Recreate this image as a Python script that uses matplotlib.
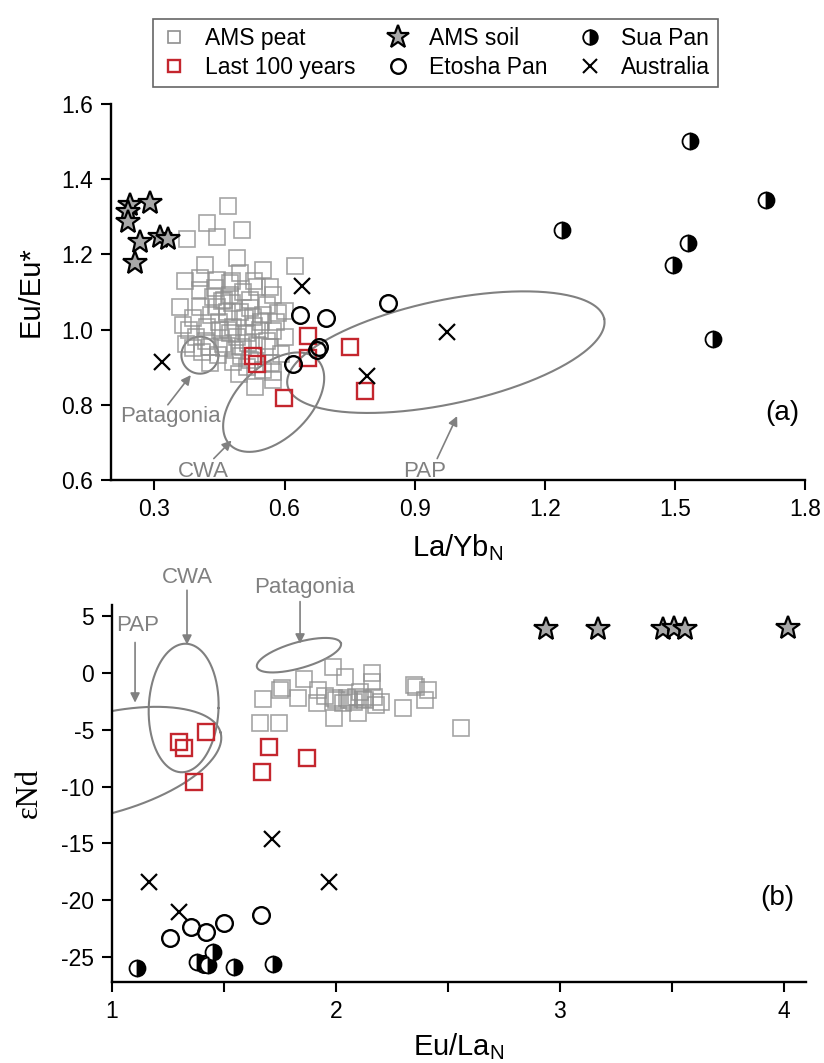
import numpy as np
import matplotlib
matplotlib.use("Agg")
import matplotlib.pyplot as plt
from matplotlib.lines import Line2D
from matplotlib.ticker import MultipleLocator, FuncFormatter

plt.rcParams['font.family'] = ['Liberation Sans', 'DejaVu Sans']
plt.rcParams['mathtext.fontset'] = 'custom'
plt.rcParams['mathtext.rm'] = 'Liberation Sans'
plt.rcParams['axes.unicode_minus'] = False

# ---------------- Panel (a): Eu/Eu* vs La/Yb_N ----------------
peat_a_x = [0.470, 0.422, 0.444, 0.501, 0.376, 0.490, 0.624, 0.417, 0.551, 0.371,
            0.405, 0.497, 0.444, 0.474, 0.405, 0.436, 0.474, 0.505, 0.536, 0.566,
            0.574, 0.405, 0.444, 0.467, 0.497, 0.520, 0.559, 0.586, 0.528, 0.367,
            0.421, 0.451, 0.482, 0.513, 0.543, 0.574, 0.601, 0.397, 0.374, 0.428,
            0.459, 0.486, 0.505, 0.536, 0.566, 0.593, 0.447, 0.428, 0.482, 0.513,
            0.551, 0.574, 0.494, 0.532, 0.574, 0.460, 0.480, 0.430, 0.450, 0.470,
            0.490, 0.510, 0.530, 0.550, 0.560, 0.420, 0.390, 0.410, 0.500, 0.520,
            0.460, 0.440, 0.520, 0.580, 0.600, 0.380, 0.480, 0.530, 0.570, 0.390,
            0.360, 0.455, 0.515, 0.545, 0.475]
peat_a_y = [1.329, 1.283, 1.247, 1.266, 1.241, 1.190, 1.169, 1.173, 1.159, 1.128,
            1.137, 1.150, 1.132, 1.123, 1.105, 1.088, 1.092, 1.101, 1.114, 1.114,
            1.092, 1.061, 1.061, 1.048, 1.048, 1.057, 1.066, 1.043, 1.034, 1.012,
            1.008, 0.999, 1.008, 0.990, 0.999, 0.995, 0.981, 0.981, 0.963, 0.954,
            0.963, 0.945, 0.954, 0.959, 0.954, 0.936, 0.932, 0.910, 0.914, 0.901,
            0.892, 0.888, 0.883, 0.848, 0.866, 1.080, 1.070, 1.040, 1.020, 1.000,
            0.980, 1.030, 1.010, 1.040, 0.970, 0.970, 1.030, 0.940, 0.930, 0.920,
            0.950, 1.110, 1.080, 1.020, 1.050, 1.000, 1.130, 1.130, 0.910, 0.950,
            1.060, 1.075, 0.965, 1.020, 0.990]

recent_a_x = [0.654, 0.751, 0.654, 0.527, 0.537, 0.599, 0.786]
recent_a_y = [0.982, 0.955, 0.924, 0.929, 0.908, 0.817, 0.836]

soil_a_x = [0.244, 0.290, 0.239, 0.239, 0.267, 0.313, 0.331, 0.255]
soil_a_y = [1.332, 1.337, 1.313, 1.287, 1.234, 1.245, 1.242, 1.178]

etosha_a_x = [0.636, 0.696, 0.839, 0.680, 0.675, 0.620]
etosha_a_y = [1.038, 1.030, 1.072, 0.953, 0.945, 0.908]

sua_a_x = [1.535, 1.710, 1.240, 1.530, 1.496, 1.588]
sua_a_y = [1.502, 1.345, 1.266, 1.229, 1.173, 0.974]

aus_a_x = [0.640, 0.975, 0.790, 0.317]
aus_a_y = [1.115, 0.993, 0.876, 0.913]

# ---------------- Panel (b): eNd vs Eu/La_N ----------------
peat_b_x = [1.674, 1.750, 1.760, 1.857, 1.830, 1.987, 2.040, 1.920, 1.915, 1.990,
            2.000, 2.060, 2.080, 2.110, 2.160, 2.160, 2.130, 2.180, 1.990, 2.100,
            1.660, 1.745, 2.300, 2.350, 2.360, 2.410, 2.400, 2.560, 2.090, 2.170,
            1.950, 2.030, 2.050, 2.120, 2.200]
peat_b_y = [-2.28, -1.49, -1.30, -0.53, -2.20, 0.53, -0.35, -1.50, -2.65, -2.20,
            -2.40, -2.40, -2.50, -1.64, 0.00, -0.80, -2.40, -2.80, -3.95, -3.50,
            -4.40, -4.40, -3.10, -1.05, -1.20, -1.50, -2.37, -4.80, -2.10, -2.10,
            -2.00, -2.60, -2.20, -2.30, -2.50]

recent_b_x = [1.300, 1.320, 1.420, 1.366, 1.700, 1.670, 1.870]
recent_b_y = [-6.1, -6.6, -5.2, -9.6, -6.5, -8.7, -7.5]

soil_b_x = [2.94, 3.17, 3.46, 3.51, 3.56, 4.02]
soil_b_y = [3.9, 3.9, 3.85, 4.0, 3.9, 4.0]

etosha_b_x = [1.26, 1.355, 1.42, 1.50, 1.665, 1.41]
etosha_b_y = [-23.3, -22.4, -22.8, -22.0, -21.3, -25.6]

sua_b_x = [1.11, 1.38, 1.45, 1.43, 1.545, 1.72]
sua_b_y = [-26.0, -25.4, -24.6, -25.7, -25.9, -25.6]

aus_b_x = [1.165, 1.30, 1.714, 1.97]
aus_b_y = [-18.4, -21.0, -14.6, -18.4]

# Source-area fields: centre and two principal semi-axis vectors (data units)
regions_a = {
    'Patagonia': dict(c=(0.405, 0.932), u=(0.0427, 0.0), v=(0.0, 0.0492)),
    'CWA': dict(c=(0.575, 0.807), u=(0.1012, 0.1128), v=(-0.0577, 0.0689)),
    'PAP': dict(c=(0.972, 0.940), u=(0.365, 0.089), v=(0.025, -0.135)),
}
regions_b = {
    'PAP': dict(c=(0.946, -8.07), u=(0.539, 2.84), v=(-0.058, 4.24)),
    'CWA': dict(c=(1.320, -3.07), u=(0.156, 0.0), v=(0.008, 5.66)),
    'Patagonia': dict(c=(1.835, 1.58), u=(0.1875, 1.053), v=(-0.016, 1.096)),
}

GREY = '#808080'
RED = '#c4262e'
PEAT = '#8f8f8f'
STAR = '#a8a8a8'

W, H = 824, 1063
fig = plt.figure(figsize=(W / 100, H / 100), dpi=100)
ax1 = fig.add_axes([111 / W, 1 - 480 / H, 694 / W, 376 / H])
ax2 = fig.add_axes([112 / W, 1 - 982 / H, 694 / W, 377 / H])


def draw_region(ax, r):
    t = np.linspace(0, 2 * np.pi, 300)
    cx, cy = r['c']
    ux, uy = r['u']
    vx, vy = r['v']
    ax.plot(cx + ux * np.cos(t) + vx * np.sin(t),
            cy + uy * np.cos(t) + vy * np.sin(t),
            color=GREY, lw=1.5, zorder=1)


def scatter_sets(ax, peat, recent, soil, etosha, sua, aus):
    ax.plot(*peat, ls='none', marker='s', ms=11, mfc='none', mec=PEAT,
            mew=1.2, alpha=0.8, zorder=2)
    ax.plot(*recent, ls='none', marker='s', ms=11, mfc='none', mec=RED,
            mew=1.7, zorder=4)
    ax.plot(*soil, ls='none', marker='*', ms=18, mfc=STAR, mec='black',
            mew=1.6, zorder=5)
    ax.plot(*etosha, ls='none', marker='o', ms=12, mfc='none', mec='black',
            mew=1.7, zorder=4)
    ax.plot(*sua, ls='none', marker='o', ms=11.5, fillstyle='right',
            markerfacecolor='black', markerfacecoloralt='white',
            mec='black', mew=1.3, zorder=4)
    ax.plot(*aus, ls='none', marker='x', ms=11.5, mec='black', mew=1.6,
            zorder=4)


def style_axes(ax):
    for s in ('top', 'right'):
        ax.spines[s].set_visible(False)
    for s in ('left', 'bottom'):
        ax.spines[s].set_linewidth(1.7)
    ax.tick_params(direction='out', length=7, width=1.5, labelsize=16.5,
                   pad=6)


arrow_kw = dict(arrowstyle='-|>', color=GREY, lw=1.2, mutation_scale=14,
                shrinkA=0, shrinkB=0)

# ---- panel (a)
for r in regions_a.values():
    draw_region(ax1, r)
scatter_sets(ax1, (peat_a_x, peat_a_y), (recent_a_x, recent_a_y),
             (soil_a_x, soil_a_y), (etosha_a_x, etosha_a_y),
             (sua_a_x, sua_a_y), (aus_a_x, aus_a_y))
ax1.set_xlim(0.2, 1.8)
ax1.set_ylim(0.6, 1.6)
ax1.set_xticks([0.3, 0.6, 0.9, 1.2, 1.5, 1.8])
ax1.set_yticks([0.6, 0.8, 1.0, 1.2, 1.4, 1.6])
ax1.yaxis.set_major_formatter(FuncFormatter(lambda v, p: f'{v:.1f}'))
ax1.xaxis.set_major_formatter(FuncFormatter(lambda v, p: f'{v:.1f}'))
style_axes(ax1)
ax1.set_xlabel(r'La/Yb$_\mathregular{N}$', fontsize=21, labelpad=8)
ax1.set_ylabel('Eu/Eu*', fontsize=21, labelpad=12)

ax1.text(0.336, 0.768, 'Patagonia', color=GREY, fontsize=16,
         ha='center', va='center')
ax1.annotate('', xy=(0.384, 0.879), xytext=(0.331, 0.800),
             arrowprops=arrow_kw)
ax1.text(0.414, 0.607, 'CWA', color=GREY, fontsize=16, ha='center',
         va='baseline')
ax1.annotate('', xy=(0.478, 0.705), xytext=(0.437, 0.657),
             arrowprops=arrow_kw)
ax1.text(0.924, 0.607, 'PAP', color=GREY, fontsize=16, ha='center',
         va='baseline')
ax1.annotate('', xy=(0.998, 0.770), xytext=(0.952, 0.657),
             arrowprops=arrow_kw)
ax1.text(1.747, 0.778, '(a)', fontsize=20, ha='center', va='center')

# ---- panel (b)
for r in regions_b.values():
    draw_region(ax2, r)
scatter_sets(ax2, (peat_b_x, peat_b_y), (recent_b_x, recent_b_y),
             (soil_b_x, soil_b_y), (etosha_b_x, etosha_b_y),
             (sua_b_x, sua_b_y), (aus_b_x, aus_b_y))
ax2.set_xlim(1, 4.1)
ax2.set_ylim(-27.2, 6.0)
ax2.xaxis.set_major_locator(MultipleLocator(0.5))
ax2.xaxis.set_major_formatter(
    FuncFormatter(lambda v, p: f'{v:.0f}' if abs(v - round(v)) < 1e-6 else ''))
ax2.set_yticks([5, 0, -5, -10, -15, -20, -25])
style_axes(ax2)
ax2.set_xlabel(r'Eu/La$_\mathregular{N}$', fontsize=21, labelpad=6)
ax2.set_ylabel('\u03b5Nd', fontsize=22, labelpad=12,
               family=['Liberation Serif', 'DejaVu Serif'])

ax2.text(1.02, 4.2, 'PAP', color=GREY, fontsize=16, ha='left', va='center',
         clip_on=False)
ax2.annotate('', xy=(1.103, -2.6), xytext=(1.103, 2.7), arrowprops=arrow_kw)
ax2.text(1.335, 8.4, 'CWA', color=GREY, fontsize=16, ha='center',
         va='center', clip_on=False)
ax2.annotate('', xy=(1.335, 2.5), xytext=(1.335, 7.3), arrowprops=arrow_kw,
             annotation_clip=False)
ax2.text(1.86, 7.5, 'Patagonia', color=GREY, fontsize=16, ha='center',
         va='center', clip_on=False)
ax2.annotate('', xy=(1.84, 2.6), xytext=(1.84, 6.3), arrowprops=arrow_kw,
             annotation_clip=False)
ax2.text(3.97, -19.8, '(b)', fontsize=20, ha='center', va='center')

# ---- legend
handles = [
    Line2D([], [], ls='none', marker='s', ms=9, mfc='none', mec=PEAT,
           mew=1.2),
    Line2D([], [], ls='none', marker='s', ms=9, mfc='none', mec=RED,
           mew=1.7),
    Line2D([], [], ls='none', marker='*', ms=17, mfc=STAR, mec='black',
           mew=1.6),
    Line2D([], [], ls='none', marker='o', ms=10.5, mfc='none', mec='black',
           mew=1.7),
    Line2D([], [], ls='none', marker='o', ms=10.5, fillstyle='right',
           markerfacecolor='black', markerfacecoloralt='white',
           mec='black', mew=1.3),
    Line2D([], [], ls='none', marker='x', ms=10.5, mec='black', mew=1.5),
]
labels = ['AMS peat', 'Last 100 years', 'AMS soil', 'Etosha Pan',
          'Sua Pan', 'Australia']
leg = fig.legend(handles, labels, ncol=3, loc='upper left',
                 bbox_to_anchor=(142 / W, 1 - 8 / H), fontsize=16.5,
                 frameon=True, fancybox=False, edgecolor='#404040',
                 handlelength=1.1, handletextpad=0.8, columnspacing=1.3,
                 labelspacing=0.25, borderpad=0.35)
leg.get_frame().set_linewidth(1.2)

fig.savefig('out.png', dpi=100)
